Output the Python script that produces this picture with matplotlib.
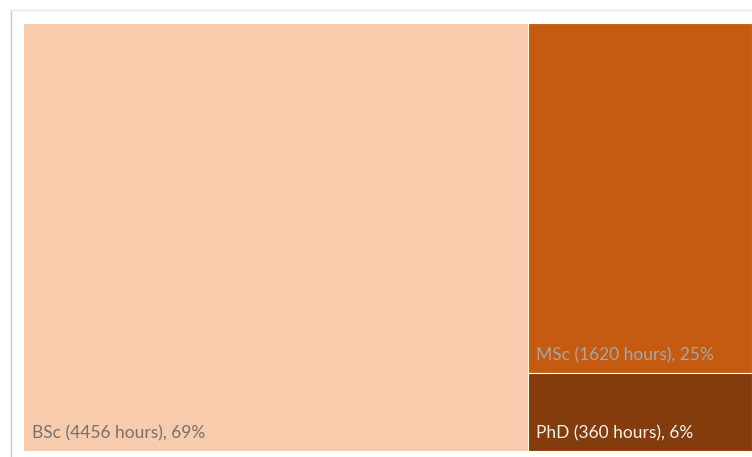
import matplotlib.pyplot as plt
from matplotlib.lines import Line2D

# study hours per degree level
degrees = ["BSc", "MSc", "PhD"]
hours = [4456, 1620, 360]
shares = [69, 25, 6]
colors = ["#F8CBAD", "#C55A11", "#843C0C"]
label_colors = ["#767171", "#A6A6A6", "#F2F2F2"]

plt.rcParams['font.family'] = ['Lato', 'DejaVu Sans']

W, H = 752, 457
fig = plt.figure(figsize=(W / 100, H / 100), dpi=100)
ax = fig.add_axes([23 / W, 6 / H, 1 - 23 / W, (451 - 23) / H])

total = sum(hours)
rest = total - hours[0]

# big block on the left, the two smaller ones stacked on the right
ax.bar(0, 1, width=hours[0], align='edge', color=colors[0],
       edgecolor='white', linewidth=0.8)
ax.bar(hours[0], hours[1] / rest, width=rest, bottom=hours[2] / rest,
       align='edge', color=colors[1], edgecolor='white', linewidth=0.8)
ax.bar(hours[0], hours[2] / rest, width=rest, bottom=0,
       align='edge', color=colors[2], edgecolor='white', linewidth=0.8)

fs = 12.5
pad_x = total * 0.012
labels = [f"{d} ({h} hours), {s}%" for d, h, s in zip(degrees, hours, shares)]
ax.text(pad_x, 0.022, labels[0], color=label_colors[0], fontsize=fs,
        ha='left', va='bottom')
ax.text(hours[0] + pad_x, hours[2] / rest + 0.022, labels[1],
        color=label_colors[1], fontsize=fs, ha='left', va='bottom')
ax.text(hours[0] + pad_x, 0.022, labels[2], color=label_colors[2],
        fontsize=fs, ha='left', va='bottom')

ax.set_xlim(0, total)
ax.set_ylim(0, 1)
ax.axis('off')

# chart area border
fig.add_artist(Line2D([11 / W, 11 / W], [0, 1 - 10 / H], color='#C8C8C8', lw=1))
fig.add_artist(Line2D([11 / W, 1], [1 - 10 / H, 1 - 10 / H], color='#E6E6E6', lw=1))

fig.savefig("out.png", dpi=100)
